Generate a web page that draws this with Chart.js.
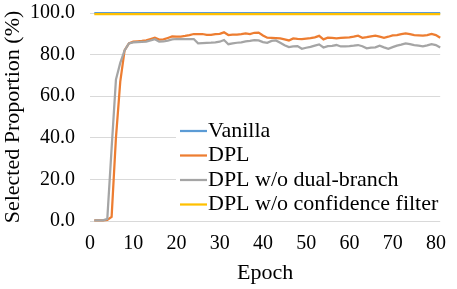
<!DOCTYPE html>
<html>
<head>
<meta charset="utf-8">
<script src="https://cdn.jsdelivr.net/npm/chart.js@4.4.1/dist/chart.umd.min.js"></script>
<style>
  body { margin: 0; background: #fff; }
  #wrap { width: 457px; height: 289px; position: relative; }
</style>
</head>
<body>
<div id="wrap"><canvas id="chart"></canvas></div>
<script>
// epochs 1..81
const epochs = [1,2,3,4,5,6,7,8,9,10,11,12,13,14,15,16,17,18,19,20,
  21,22,23,24,25,26,27,28,29,30,31,32,33,34,35,36,37,38,39,40,
  41,42,43,44,45,46,47,48,49,50,51,52,53,54,55,56,57,58,59,60,
  61,62,63,64,65,66,67,68,69,70,71,72,73,74,75,76,77,78,79,80,81];

const vanilla = [100,100,100,100,100,100,100,100,100,100,100,100,100,100,100,100,100,100,100,100,
  100,100,100,100,100,100,100,100,100,100,100,100,100,100,100,100,100,100,100,100,
  100,100,100,100,100,100,100,100,100,100,100,100,100,100,100,100,100,100,100,100,
  100,100,100,100,100,100,100,100,100,100,100,100,100,100,100,100,100,100,100,100,100];

const dpl = [0.3,0.3,0.3,0.5,2,40,67,82,85.4,86.2,86.4,86.6,86.9,87.5,88.1,87.2,87.3,88.0,88.7,88.6,
  88.7,89.0,89.4,89.9,89.8,89.9,89.5,89.5,89.8,90.0,90.7,89.4,89.6,89.6,89.8,90.2,89.9,90.5,90.6,89.2,
  88.1,88.0,87.9,87.8,87.3,86.8,87.8,87.6,87.5,87.7,87.9,88.3,89.0,87.3,88.1,88.0,87.8,88.0,88.2,88.3,
  88.6,89.1,88.1,88.4,88.8,89.1,88.6,88.1,88.6,89.2,89.4,89.8,90.2,89.8,89.4,89.3,89.1,89.4,89.9,89.4,88.1];

const dplNoDual = [0.3,0.3,0.3,1,35,68,76,82,85.4,85.9,86.0,86.1,86.2,86.8,87.4,86.2,86.3,86.7,87.3,87.5,
  87.5,87.4,87.5,87.5,85.4,85.5,85.6,85.7,85.9,86.2,87.0,85.0,85.4,85.7,85.9,86.4,86.6,87.0,86.8,86.0,
  85.7,86.6,86.8,85.7,84.5,83.6,83.9,84.1,82.8,83.3,83.7,84.3,84.9,83.4,84.1,84.2,84.6,83.9,84.0,84.1,
  84.3,84.6,84.0,83.0,83.3,83.5,84.3,83.5,82.8,83.6,84.3,84.8,85.4,85.0,84.6,84.3,84.0,84.4,85.0,84.6,83.4];

const dplNoConf = [99.4,99.4,99.4,99.4,99.4,99.4,99.4,99.4,99.4,99.4,99.4,99.4,99.4,99.4,99.4,99.4,99.4,99.4,99.4,99.4,
  99.4,99.4,99.4,99.4,99.4,99.4,99.4,99.4,99.4,99.4,99.4,99.4,99.4,99.4,99.4,99.4,99.4,99.4,99.4,99.4,
  99.4,99.4,99.4,99.4,99.4,99.4,99.4,99.4,99.4,99.4,99.4,99.4,99.4,99.4,99.4,99.4,99.4,99.4,99.4,99.4,
  99.4,99.4,99.4,99.4,99.4,99.4,99.4,99.4,99.4,99.4,99.4,99.4,99.4,99.4,99.4,99.4,99.4,99.4,99.4,99.4,99.4];

const seriesNames = ['Vanilla', 'DPL', 'DPL w/o dual-branch', 'DPL w/o confidence filter'];
const xTicks = [0, 10, 20, 30, 40, 50, 60, 70, 80];
const yTicks = [0, 20, 40, 60, 80, 100];

const colors = ['#5B9BD5', '#ED7D31', '#A5A5A5', '#FFC000'];
const FONT = '"Liberation Serif", "Times New Roman", serif';

function pts(ys) {
  return ys.map((y, i) => ({ x: epochs[i], y: y }));
}

// legend drawn inside the plot, on a white box
const insideLegend = {
  id: 'insideLegend',
  afterDraw(chart) {
    const ctx = chart.ctx;
    ctx.save();
    ctx.fillStyle = '#fff';
    ctx.fillRect(176, 118, 273, 98);
    ctx.font = '22px ' + FONT;
    ctx.textBaseline = 'middle';
    ctx.textAlign = 'left';
    chart.data.datasets.forEach((ds, i) => {
      const y = 131 + i * 24.5;
      ctx.strokeStyle = ds.borderColor;
      ctx.lineWidth = 2.25;
      ctx.beginPath();
      ctx.moveTo(180, y);
      ctx.lineTo(207, y);
      ctx.stroke();
      ctx.fillStyle = '#000';
      ctx.fillText(ds.label, 208, y);
    });
    ctx.restore();
  }
};

const datasets = [vanilla, dpl, dplNoDual, dplNoConf].map((d, i) => ({
  label: seriesNames[i],
  data: pts(d),
  borderColor: colors[i],
  backgroundColor: colors[i],
  borderWidth: 2.25,
  pointRadius: 0,
  tension: 0,
  clip: false,
  order: 3 - i
}));

new Chart(document.getElementById('chart').getContext('2d'), {
  type: 'line',
  data: { datasets: datasets },
  plugins: [insideLegend],
  options: {
    responsive: true,
    maintainAspectRatio: false,
    animation: false,
    layout: { padding: { top: 0, right: 10, left: 0, bottom: 0 } },
    plugins: { legend: { display: false }, tooltip: { enabled: false } },
    scales: {
      x: {
        type: 'linear',
        min: 0,
        max: 81,
        afterBuildTicks: s => { s.ticks = xTicks.map(v => ({ value: v })); },
        afterFit: s => { s.height = 68; },
        grid: { display: false, drawTicks: false },
        border: { display: false },
        ticks: { font: { family: FONT, size: 20 }, color: '#000', padding: 11, maxRotation: 0 },
        title: { display: true, text: 'Epoch', font: { family: FONT, size: 22 }, color: '#000', padding: { top: 0, bottom: 3 } }
      },
      y: {
        min: 0,
        max: 100,
        afterBuildTicks: s => { s.ticks = yTicks.map(v => ({ value: v })); },
        afterFit: s => { s.width = 90; s.paddingTop = 13; s.paddingBottom = 0; },
        grid: { color: '#D9D9D9', lineWidth: 1, drawTicks: false },
        border: { display: false },
        ticks: { font: { family: FONT, size: 20 }, color: '#000', padding: 15, callback: v => v.toFixed(1) },
        title: { display: true, text: 'Selected Proportion (%)', font: { family: FONT, size: 22 }, color: '#000', padding: { top: 0, bottom: 0 } }
      }
    }
  }
});
</script>
</body>
</html>
